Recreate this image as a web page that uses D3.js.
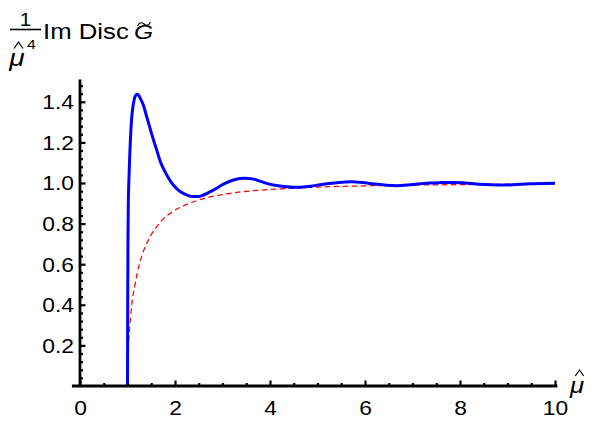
<!DOCTYPE html>
<html>
<head>
<meta charset="utf-8">
<script src="https://cdn.jsdelivr.net/npm/d3@7"></script>
<style>
  body { margin: 0; background: #fff; }
  svg { display: block; }
  text { font-family: "Liberation Sans", Arial, Helvetica, sans-serif; fill: #000; }
</style>
</head>
<body>
<svg id="chart" width="595" height="422"></svg>
<script>
// Tick labels
const xTicks = [0, 2, 4, 6, 8, 10];
const yTicks = [0.2, 0.4, 0.6, 0.8, 1.0, 1.2, 1.4];

// Full spectral function (solid blue): mu-hat and (1/mu^4) Im Disc G
const muFull = [1.000, 1.002, 1.005, 1.010, 1.017, 1.030, 1.045, 1.074, 1.100, 1.120,
  1.150, 1.180, 1.210, 1.240, 1.280, 1.333, 1.400, 1.474, 1.550, 1.614,
  1.700, 1.754, 1.850, 1.965, 2.070, 2.175, 2.280, 2.386, 2.500, 2.600,
  2.750, 2.877, 2.950, 3.100, 3.250, 3.470, 3.650, 3.800, 3.930, 4.100,
  4.350, 4.630, 4.850, 5.050, 5.230, 5.450, 5.720, 5.950, 6.200, 6.450,
  6.670, 6.900, 7.100, 7.350, 7.600, 7.850, 8.100, 8.400, 8.650, 8.910,
  9.200, 9.500, 9.750, 10.000];
const discFull = [0.000, 0.200, 0.450, 0.700, 0.900, 1.020, 1.120, 1.270, 1.350, 1.384,
  1.420, 1.434, 1.437, 1.430, 1.412, 1.384, 1.330, 1.270, 1.210, 1.163,
  1.100, 1.072, 1.030, 0.990, 0.965, 0.949, 0.938, 0.933, 0.934, 0.941,
  0.958, 0.974, 0.985, 1.003, 1.016, 1.023, 1.019, 1.008, 0.998, 0.989,
  0.982, 0.979, 0.984, 0.991, 0.997, 1.003, 1.006, 1.002, 0.995, 0.989,
  0.987, 0.990, 0.995, 1.000, 1.002, 1.003, 1.000, 0.994, 0.991, 0.990,
  0.993, 0.996, 0.998, 0.999];

// Free-field comparison (dashed red)
const muFree = [1.000, 1.005, 1.020, 1.050, 1.100, 1.150, 1.200, 1.300, 1.400, 1.500,
  1.700, 2.000, 2.300, 2.600, 3.000, 3.500, 4.000, 4.500, 5.000, 6.000,
  7.000, 8.000, 9.000, 10.000];
const discFree = [0.000, 0.100, 0.200, 0.300, 0.420, 0.490, 0.550, 0.640, 0.700, 0.745,
  0.810, 0.866, 0.900, 0.923, 0.943, 0.959, 0.968, 0.975, 0.980, 0.986,
  0.990, 0.992, 0.994, 0.995];

const svg = d3.select("#chart");

const x = d3.scaleLinear().domain([0, 10]).range([80, 555]);
const y = d3.scaleLinear().domain([0, 1.5]).range([386, 81.5]);

const axisColor = "#000";
const axisWidth = 2.8;
const textScale = 1.17;

// ---- curves ----
const line = d3.line()
  .x(d => x(d[0]))
  .y(d => y(d[1]))
  .curve(d3.curveMonotoneX);

svg.append("path")
  .datum(d3.zip(muFree, discFree))
  .attr("d", line)
  .attr("fill", "none")
  .attr("stroke", "#ff0000")
  .attr("stroke-width", 1.25)
  .attr("stroke-dasharray", "5.5,3.5");

svg.append("path")
  .datum(d3.zip(muFull, discFull))
  .attr("d", line)
  .attr("fill", "none")
  .attr("stroke", "#0000ff")
  .attr("stroke-width", 3)
  .attr("stroke-linejoin", "round");

// ---- axes ----
const xMinor = d3.range(0.5, 10, 0.5).filter(v => Math.abs(v % 2) > 1e-9);
const yMinor = d3.range(0.04, 1.5, 0.04).filter(v => !yTicks.some(t => Math.abs(t - v) < 1e-6));

const gx = svg.append("g").attr("transform", `translate(0,${y(0)})`);
gx.call(d3.axisBottom(x).tickValues(xMinor).tickSizeInner(-3).tickSizeOuter(0).tickFormat(""));
gx.call(g => g.select(".domain").remove());
const gx2 = svg.append("g").attr("transform", `translate(0,${y(0)})`);
gx2.call(d3.axisBottom(x).tickValues(xTicks).tickSizeInner(-5.5).tickSizeOuter(0).tickPadding(24)
  .tickFormat(d3.format("d")));
gx2.call(g => g.select(".domain").remove());

const gy = svg.append("g").attr("transform", `translate(${x(0)},0)`);
gy.call(d3.axisLeft(y).tickValues(yMinor).tickSizeInner(-3).tickSizeOuter(0).tickFormat(""));
gy.call(g => g.select(".domain").remove());
const gy2 = svg.append("g").attr("transform", `translate(${x(0)},0)`);
gy2.call(d3.axisLeft(y).tickValues(yTicks).tickSizeInner(-5.5).tickSizeOuter(0).tickPadding(6)
  .tickFormat(d3.format(".1f")));
gy2.call(g => g.select(".domain").remove());

svg.selectAll(".tick line").attr("stroke", axisColor).attr("stroke-width", 2.2);
svg.selectAll(".tick text")
  .attr("font-size", 19.5)
  .attr("font-family", "'Liberation Sans', Arial, sans-serif")
  .attr("fill", "#000");
gx2.selectAll(".tick text").attr("dy", null).attr("y", 29)
  .attr("transform", `scale(${textScale},1)`);
gy2.selectAll(".tick text").attr("x", -6 / textScale).attr("dy", "0.35em")
  .attr("transform", `scale(${textScale},1)`);

// axis lines
svg.append("line")
  .attr("x1", x(-0.17)).attr("x2", x(10.05))
  .attr("y1", y(0)).attr("y2", y(0))
  .attr("stroke", axisColor).attr("stroke-width", axisWidth);
svg.append("line")
  .attr("x1", x(0)).attr("x2", x(0))
  .attr("y1", y(0)).attr("y2", y(1.51))
  .attr("stroke", axisColor).attr("stroke-width", axisWidth);

// small accent marks (hat / tilde) drawn as strokes
function hat(g, cx, top, half, h) {
  g.append("path")
    .attr("d", `M${cx - half},${top + h} L${cx},${top} L${cx + half},${top + h}`)
    .attr("fill", "none").attr("stroke", "#000").attr("stroke-width", 1.2)
    .attr("stroke-linejoin", "miter");
}

// ---- axis titles ----
// x: mu-hat
const xl = svg.append("g");
xl.append("text").attr("x", 577 / textScale).attr("y", 393).attr("font-size", 22)
  .attr("font-style", "italic").attr("text-anchor", "middle")
  .attr("transform", `scale(${textScale},1)`).text("μ");
hat(xl, 579.5, 370, 4.2, 6);

// y: (1 / mu-hat^4) Im Disc G-tilde
const yl = svg.append("g");
yl.append("text").attr("x", 25.5 / textScale).attr("y", 26).attr("font-size", 17.5)
  .attr("text-anchor", "middle").attr("transform", `scale(${textScale},1)`).text("1");
yl.append("line").attr("x1", 10).attr("x2", 41).attr("y1", 29.5).attr("y2", 29.5)
  .attr("stroke", "#000").attr("stroke-width", 1.6);
yl.append("text").attr("x", 17 / textScale).attr("y", 66).attr("font-size", 24)
  .attr("font-style", "italic").attr("text-anchor", "middle")
  .attr("transform", `scale(${textScale},1)`).text("μ");
hat(yl, 18.5, 42, 4.5, 6.5);
yl.append("text").attr("x", 27 / textScale).attr("y", 49).attr("font-size", 13.5)
  .attr("transform", `scale(${textScale},1)`).text("4");
yl.append("text").attr("x", 43 / textScale).attr("y", 39.5).attr("font-size", 22)
  .attr("transform", `scale(${textScale},1)`).text("Im Disc");
yl.append("text").attr("x", 134 / textScale).attr("y", 39.5).attr("font-size", 21)
  .attr("font-style", "italic").attr("transform", `scale(${textScale},1)`).text("G");
yl.append("path")
  .attr("d", "M137.5,26 C139.5,22 142,22 144,24 C146,26 148.5,26 150.5,22")
  .attr("fill", "none").attr("stroke", "#000").attr("stroke-width", 1.1);
</script>
</body>
</html>
